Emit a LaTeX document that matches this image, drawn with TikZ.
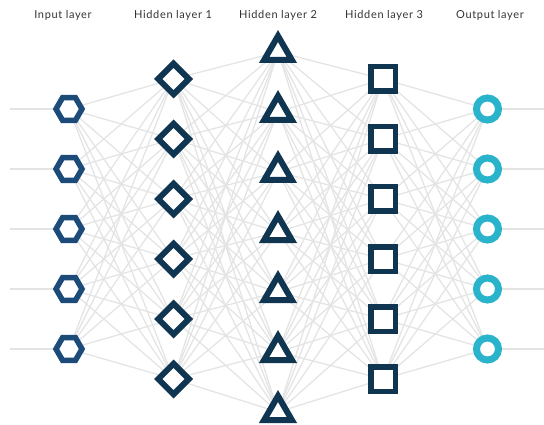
\documentclass[tikz,border=0pt]{standalone}
\usepackage{fontspec}
\setmainfont{Lato}[LetterSpace=6]
\usetikzlibrary{shapes.geometric,backgrounds}
\definecolor{hexblue}{HTML}{1D4B79}
\definecolor{navy}{HTML}{0F3550}
\definecolor{cyanc}{HTML}{2AB4CC}
\definecolor{edgegray}{HTML}{E4E4E4}
\definecolor{labelgray}{HTML}{333333}
\begin{document}
\begin{tikzpicture}[x=1pt,y=-1pt,
  hexnode/.style={regular polygon, regular polygon sides=6, minimum size=26pt, inner sep=0pt, draw=hexblue, line width=5.5pt, fill=white},
  dianode/.style={diamond, minimum width=33pt, minimum height=33pt, inner sep=0pt, draw=navy, line width=6pt, fill=white},
  trinode/.style={regular polygon, regular polygon sides=3, minimum size=32pt, inner sep=0pt, draw=navy, line width=6pt, fill=white},
  sqnode/.style={rectangle, minimum size=24.5pt, inner sep=0pt, draw=navy, line width=5.5pt, fill=white},
  cirnode/.style={circle, minimum size=22pt, inner sep=0pt, draw=cyanc, line width=7pt, fill=white},
  edge/.style={draw=edgegray, line width=1.3pt},
  lab/.style={text=labelgray, font=\fontsize{11}{13}\selectfont, inner sep=0pt}
]
\useasboundingbox (0,0) rectangle (544,425);
% labels
\node[lab] (l1) at (63,15) {Input layer};
\node[lab] (l2) at (173,15) {Hidden layer 1};
\node[lab] (l3) at (278,15) {Hidden layer 2};
\node[lab] (l4) at (384,15) {Hidden layer 3};
\node[lab] (l5) at (490,15) {Output layer};
% nodes
\foreach \k in {1,...,5} \node[hexnode] (i\k) at (69,{49+60*\k}) {};
\foreach \k in {1,...,6} \node[dianode] (h\k) at (173.5,{19+60*\k}) {};
\foreach \k in {1,...,7} \node[trinode] (t\k) at (278,{-8+60*\k}) {};
\foreach \k in {1,...,6} \node[sqnode] (s\k) at (383,{19+60*\k}) {};
\foreach \k in {1,...,5} \node[cirnode] (o\k) at (487.5,{49+60*\k}) {};
\foreach \k in {1,...,5} {
  \coordinate (in\k) at (10,{49+60*\k});
  \coordinate (out\k) at (544,{49+60*\k});
}
% connectors
\begin{scope}[on background layer]
\foreach \k in {1,...,5} {
  \draw[edge] (in\k) -- (i\k.center);
  \draw[edge] (o\k.center) -- (out\k);
}
\foreach \a in {1,...,5} \foreach \b in {1,...,6} \draw[edge] (i\a.center) -- (h\b.center);
\foreach \a in {1,...,6} \foreach \b in {1,...,7} \draw[edge] (h\a.center) -- (t\b.center);
\foreach \a in {1,...,7} \foreach \b in {1,...,6} \draw[edge] (t\a.center) -- (s\b.center);
\foreach \a in {1,...,6} \foreach \b in {1,...,5} \draw[edge] (s\a.center) -- (o\b.center);
\end{scope}
\end{tikzpicture}
\end{document}
